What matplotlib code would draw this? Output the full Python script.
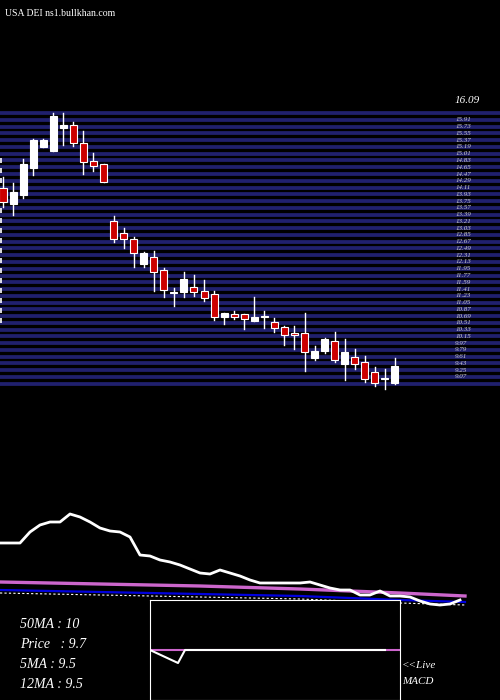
import matplotlib
matplotlib.use("Agg")
from matplotlib import pyplot as plt
from matplotlib.patches import Rectangle

# candle data (open, close, high, low)
opens = [14.09, 13.67, 13.91, 14.63, 15.19, 15.08, 15.69, 15.77, 15.29, 14.81,
         14.73, 13.22, 12.90, 12.74, 12.07, 12.26, 11.91, 11.30, 11.33, 11.46,
         11.36, 11.28, 10.66, 10.74, 10.74, 10.56, 10.66, 10.53, 10.40, 10.24,
         10.24, 9.57, 9.76, 10.03, 9.41, 9.60, 9.47, 9.20, 9.01, 8.91]
closes = [13.72, 13.99, 14.73, 15.37, 15.37, 16.01, 15.77, 15.29, 14.79, 14.68,
          14.25, 12.74, 12.74, 12.37, 12.37, 11.86, 11.38, 11.30, 11.67, 11.33,
          11.17, 10.66, 10.77, 10.66, 10.61, 10.66, 10.66, 10.37, 10.19, 10.19,
          9.73, 9.76, 10.08, 9.52, 9.73, 9.41, 9.01, 8.91, 9.01, 9.36]
highs = [14.39, 14.23, 14.87, 15.40, 15.40, 16.09, 16.09, 15.85, 15.61, 15.03,
         14.73, 13.35, 13.03, 12.79, 12.39, 12.42, 11.97, 11.44, 11.86, 11.78,
         11.65, 11.36, 10.77, 10.82, 10.74, 11.20, 10.82, 10.64, 10.42, 10.42,
         10.77, 9.89, 10.11, 10.27, 10.08, 9.81, 9.63, 9.33, 9.28, 9.57]
lows = [13.59, 13.38, 13.83, 14.44, 15.19, 15.08, 15.24, 15.21, 14.47, 14.55,
        14.25, 12.66, 12.50, 11.99, 11.99, 11.36, 11.20, 10.96, 11.20, 11.22,
        11.09, 10.58, 10.48, 10.61, 10.35, 10.56, 10.37, 10.27, 9.92, 9.81,
        9.23, 9.52, 9.70, 9.47, 8.99, 9.28, 8.93, 8.83, 8.75, 8.88]

grid_top = 16.09
grid_step = 0.18
grid_count = 41

# lower panel indicator (sampled every 10 px across the width)
osc_x = list(range(0, 470, 10))
osc_vals = [77, 77, 77, 88, 95, 98, 98, 106, 103, 98, 92, 89, 88, 83, 65, 64,
            60, 58, 55, 51, 47, 46, 50, 47, 44, 40, 37, 37, 37, 37, 37, 38,
            35, 32, 30, 30, 25, 25, 29, 24, 24, 23, 19, 16, 15, 16, 20]
ma_x = [0, 100, 200, 300, 400, 465]
ma_magenta = [38, 36, 34, 31, 27, 24]
ma_blue = [30, 28, 26, 24, 20, 18]
ma_dotted = [27, 25, 23, 21, 17, 15]

macd_x = [0, 28, 35, 235, 250]
macd_line = [0, -0.26, 0, 0, 0]
macd_signal = [0, 0, 0, 0, 0]

labels = ["50MA : 10", "Price   : 9.7", "5MA : 9.5", "12MA : 9.5"]

fig = plt.figure(figsize=(5, 7), dpi=100, facecolor="black")

# main candle axes covers whole figure
ax = fig.add_axes([0, 0, 1, 1])
ax.set_facecolor("black")
ax.set_xlim(-0.3, 49.45)
ax.set_ylim(0.476, 19.10)
ax.axis("off")

for k in range(grid_count):
    p = grid_top - grid_step * k
    ax.axhline(p, color="#20206e", lw=2.7, zorder=1)
    if k > 0 and k < grid_count - 1:
        ax.text(45.0, p, "%.2f" % p, color="#cccccc", fontsize=5,
                va="center", ha="left", family="Liberation Serif", style="italic", zorder=3)
ax.text(44.9, grid_top + 0.22, "%.2f" % grid_top, color="white", fontsize=8,
        va="bottom", ha="left", family="Liberation Serif", style="italic")

for i in range(len(opens)):
    o, c, h, l = opens[i], closes[i], highs[i], lows[i]
    ax.plot([i, i], [l, h], color="white", lw=1, zorder=4)
    bot = min(o, c)
    ht = max(abs(c - o), 0.03)
    col = "#cc0000" if c < o else "white"
    ax.add_patch(Rectangle((i - 0.35, bot), 0.7, ht, facecolor=col,
                           edgecolor="white", lw=0.8, zorder=5))

ax.plot([-0.2, -0.2], [10.5, 15.0], color="white", lw=1.2, ls=(0, (3, 3)))
ax.text(0.2, 18.75, "USA DEI ns1.bullkhan.com", color="white", fontsize=7,
        family="Liberation Serif", va="center")

# lower indicator panel
ax2 = fig.add_axes([0, 80 / 700, 1, 120 / 700])
ax2.patch.set_alpha(0)
ax2.set_xlim(0, 500)
ax2.set_ylim(0, 120)
ax2.axis("off")
ax2.plot(ma_x, ma_magenta, color="#cc66cc", lw=2.4)
ax2.plot(ma_x, ma_blue, color="#0000dd", lw=1.6)
ax2.plot(ma_x, ma_dotted, color="white", lw=0.8, ls=(0, (2, 2)))
ax2.plot(osc_x, osc_vals, color="white", lw=2)

# MACD box
ax3 = fig.add_axes([150 / 500, 0, 250 / 500, 100 / 700])
ax3.set_facecolor("black")
ax3.set_xlim(0, 250)
ax3.set_ylim(-1, 1)
ax3.set_xticks([])
ax3.set_yticks([])
for s in ax3.spines.values():
    s.set_color("white")
ax3.plot(macd_x, macd_signal, color="#cc66cc", lw=1.5)
ax3.plot(macd_x[:-1], macd_line[:-1], color="white", lw=1.5)

for j, t in enumerate(labels):
    fig.text(20 / 500, 1 - (625 + 20 * j) / 700, t, color="white", fontsize=10,
             family="Liberation Serif", style="italic", va="center")
fig.text(402 / 500, 1 - 666 / 700, "<<Live", color="white", fontsize=8,
         family="Liberation Serif", style="italic", va="center")
fig.text(402 / 500, 1 - 681 / 700, "MACD", color="white", fontsize=8,
         family="Liberation Serif", style="italic", va="center")

fig.savefig("out.png", dpi=100, facecolor="black")
